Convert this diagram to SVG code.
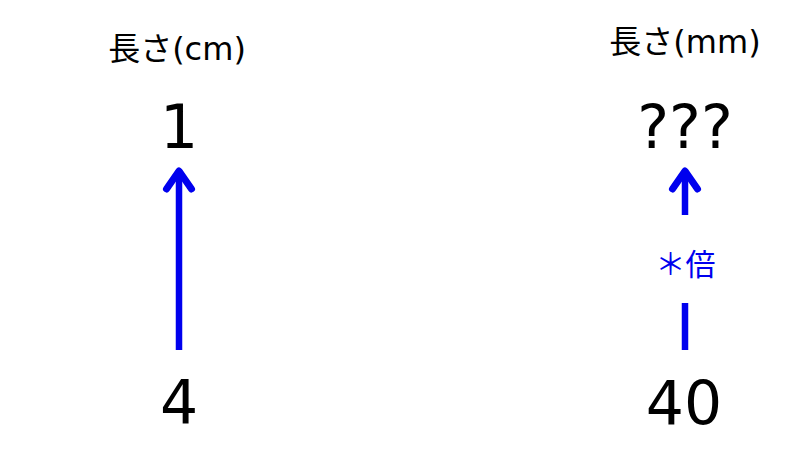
<svg xmlns="http://www.w3.org/2000/svg" width="800" height="450" viewBox="0 0 800 450">
  <style>
    .hdr { font-family: "DejaVu Sans", "Noto Sans CJK JP", sans-serif; font-size: 32px; fill: #000; text-anchor: middle; }
    .num { font-family: "DejaVu Sans", "Noto Sans CJK JP", sans-serif; font-size: 60px; fill: #000; text-anchor: middle; }
    .lbl { font-family: "Noto Sans CJK JP", sans-serif; font-size: 30px; fill: #0000ee; text-anchor: middle; }
    .shaft { stroke: #0000ee; stroke-width: 6.5; fill: none; }
    .head { stroke: #0000ee; stroke-width: 7; fill: none; stroke-linecap: round; stroke-linejoin: round; }
  </style>
  <defs>
    <marker id="chev" markerUnits="userSpaceOnUse" viewBox="-30 -20 40 40" markerWidth="40" markerHeight="40" refX="0" refY="0" orient="auto" overflow="visible">
      <path class="head" d="M -18 -12.5 L 0 0 L -18 12.5"/>
    </marker>
  </defs>
  <rect width="800" height="450" fill="#fff"/>
  <g id="connectors">
    <line id="arrow-left" class="shaft" x1="179" y1="350" x2="179" y2="171" marker-end="url(#chev)"/>
    <line id="arrow-right-upper" class="shaft" x1="685" y1="215" x2="685" y2="171" marker-end="url(#chev)"/>
    <line id="arrow-right-lower" class="shaft" x1="685" y1="303" x2="685" y2="350"/>
  </g>
  <g id="header-cm"><text class="hdr" x="177" y="60">長さ(cm)</text></g>
  <g id="header-mm"><text class="hdr" x="685" y="53">長さ(mm)</text></g>
  <g id="node-1"><text class="num" x="179" y="148">1</text></g>
  <g id="node-unknown"><text class="num" x="685" y="148">???</text></g>
  <g id="node-4"><text class="num" x="179" y="423">4</text></g>
  <g id="node-40"><text class="num" x="684" y="424">40</text></g>
  <g id="label-times"><text class="lbl" x="685.5" y="275">＊倍</text></g>
</svg>
